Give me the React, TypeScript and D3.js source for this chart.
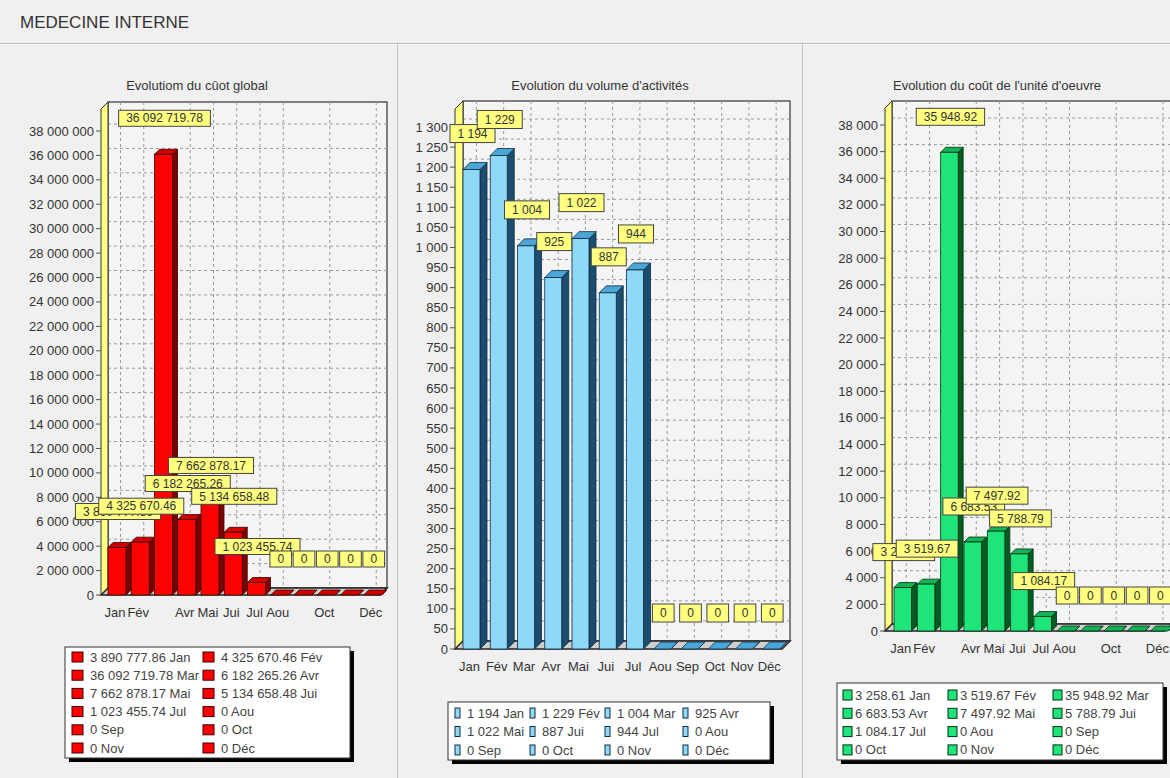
import React from 'react';
import * as d3 from 'd3';

const width = 1170;
const height = 778;
const font = '"Liberation Sans", Arial, sans-serif';

// data
const months = ['Jan', 'Fév', 'Mar', 'Avr', 'Mai', 'Jui', 'Jul', 'Aou', 'Sep', 'Oct', 'Nov', 'Déc'];
// the narrow charts drop some month labels
const narrowLabels = ['Jan', 'Fév', 'Avr', 'Mai', 'Jui', 'Jul', 'Aou', 'Oct', 'Déc'];
const coutGlobal = [3890777.86, 4325670.46, 36092719.78, 6182265.26, 7662878.17, 5134658.48, 1023455.74, 0, 0, 0, 0, 0];
const volume = [1194, 1229, 1004, 925, 1022, 887, 944, 0, 0, 0, 0, 0];
const coutUnite = [3258.61, 3519.67, 35948.92, 6683.53, 7497.92, 5788.79, 1084.17, 0, 0, 0, 0, 0];

const locale = d3.formatLocale({decimal: '.', thousands: ' ', grouping: [3], currency: ['', '']});
const fmtInt = locale.format(',d');
const fmtDec = locale.format(',.2f');

const ctx = document.createElement('canvas').getContext('2d');
const textWidth = (s, size) => {
  if (!ctx) return s.length * size * 0.55;
  ctx.font = `${size}px ${font}`;
  return ctx.measureText(s).width;
};

const panels = [
  {
    title: 'Evolutiom du cûot global', titleX: 197,
    values: coutGlobal, fmt: fmtDec, yMax: 38e6, step: 2e6,
    wallLeft: 101, plotLeft: 108, right: 387, top: 102, base: 595, yTop: 131,
    faceW: 18, barOff: 0, depth: 5, labelGap: 28, labelH: 16,
    axisLabels: narrowLabels,
    face: '#ff0000', side: '#7a0000', topc: '#d00000', edge: '#3a0000',
    legend: {x: 65, y: 647, w: 285, h: 111, cols: [72, 203], textDx: 18, row0: 657, rowStep: 18.2, sw: 11, sh: 10},
  },
  {
    title: "Evolution du volume d'activités", titleX: 600,
    values: volume, fmt: fmtInt, yMax: 1300, step: 50,
    wallLeft: 455, plotLeft: 463, right: 790, top: 101, base: 649, yTop: 127,
    faceW: 17, barOff: 0, depth: 7, labelGap: 27, labelH: 18,
    axisLabels: months,
    face: '#8ed8f8', side: '#1c4d6e', topc: '#4aa6d6', edge: '#0e2c40',
    legend: {x: 448, y: 702, w: 322, h: 58, cols: [455, 530, 605, 683], textDx: 12, row0: 713, rowStep: 18.5, sw: 5, sh: 10},
  },
  {
    title: "Evolution du coût de l'unité d'oeuvre", titleX: 997,
    values: coutUnite, fmt: fmtDec, yMax: 38000, step: 2000,
    wallLeft: 885, plotLeft: 892, right: 1172, top: 101, base: 631, yTop: 125,
    faceW: 17.5, barOff: 2, depth: 5, labelGap: 27, labelH: 17,
    axisLabels: narrowLabels,
    face: '#1ee47a', side: '#005c20', topc: '#12b455', edge: '#003010',
    legend: {x: 837, y: 683, w: 326, h: 77, cols: [843, 948, 1053], textDx: 12, row0: 695, rowStep: 18.3, sw: 9, sh: 10},
  },
];

function Panel({p}) {
  const x = d3.scaleBand().domain(months).range([p.plotLeft, p.right]);
  const y = d3.scaleLinear().domain([0, p.yMax]).range([p.base, p.yTop]);
  const ticks = d3.range(0, p.yMax + p.step / 2, p.step);
  const wd = p.plotLeft - p.wallLeft;
  const d = p.depth;
  const faceX = m => x(m) + p.barOff;
  const fmtVal = v => (v === 0 ? '0' : p.fmt(v));

  return (
    <g fontFamily={font}>
      <text x={p.titleX} y={90} textAnchor='middle' fontSize={13} fill='#333'>{p.title}</text>

      {/* back wall, left wall and floor */}
      <rect x={p.plotLeft} y={p.top} width={p.right - p.plotLeft} height={p.base - wd - p.top}
        fill='#f4f4f4' stroke='#333' strokeWidth={1.2} />
      {ticks.filter(t => t > 0).map(t => (
        <line key={t} x1={p.plotLeft} x2={p.right} y1={y(t) - wd} y2={y(t) - wd}
          stroke='#9a9a9a' strokeDasharray='3,3' />
      ))}
      {p.axisLabels.map(m => {
        const gx = faceX(m) + p.faceW / 2 + d * 0.7;
        return <line key={m} x1={gx} x2={gx} y1={p.top} y2={p.base - wd} stroke='#9a9a9a' strokeDasharray='3,3' />;
      })}
      <polygon points={`${p.wallLeft},${p.top + wd} ${p.plotLeft},${p.top} ${p.plotLeft},${p.base - wd} ${p.wallLeft},${p.base}`}
        fill='#ffff80' stroke='#333' />
      <polygon points={`${p.wallLeft},${p.base} ${p.plotLeft},${p.base - wd} ${p.right},${p.base - wd} ${p.right - wd},${p.base}`}
        fill='#cfcfcf' stroke='#222' strokeWidth={1.5} />

      {/* y axis */}
      {ticks.map(t => (
        <g key={t}>
          <line x1={p.wallLeft - 5} x2={p.wallLeft} y1={y(t)} y2={y(t)} stroke='#555' />
          <text x={p.wallLeft - 7} y={y(t)} dy='0.35em' textAnchor='end' fontSize={13} fill='#333'>{fmtInt(t)}</text>
        </g>
      ))}

      {/* 3d bars */}
      {p.values.map((v, i) => {
        const m = months[i];
        const x0 = faceX(m);
        const fw = p.faceW;
        const yt = y(v);
        const b = p.base;
        return (
          <g key={m} stroke={p.edge} strokeWidth={0.8}>
            <polygon points={`${x0 + fw},${yt} ${x0 + fw + d},${yt - d} ${x0 + fw + d},${b - d} ${x0 + fw},${b}`} fill={p.side} />
            <polygon points={`${x0},${yt} ${x0 + d},${yt - d} ${x0 + fw + d},${yt - d} ${x0 + fw},${yt}`} fill={p.topc} />
            <rect x={x0} y={yt} width={fw} height={b - yt} fill={p.face} />
          </g>
        );
      })}

      {/* x labels */}
      {p.axisLabels.map(m => (
        <text key={m} x={faceX(m) + p.faceW / 2 - 2} y={p.base + 22} textAnchor='middle' fontSize={13} fill='#333'>{m}</text>
      ))}

      {/* value labels, later ones on top */}
      {p.values.map((v, i) => {
        const s = fmtVal(v);
        const w = textWidth(s, 12) + 15;
        const cx = faceX(months[i]) + p.faceW / 2 + 1;
        const yb = y(v) - p.labelGap;
        return (
          <g key={i}>
            <rect x={cx - w / 2} y={yb - p.labelH} width={w} height={p.labelH} fill='#ffff80' stroke='#444' />
            <text x={cx} y={yb - p.labelH / 2} dy='0.35em' textAnchor='middle' fontSize={12} fill='#333'>{s}</text>
          </g>
        );
      })}

      {/* legend */}
      <rect x={p.legend.x + 4} y={p.legend.y + 4} width={p.legend.w} height={p.legend.h} fill='#000' />
      <rect x={p.legend.x} y={p.legend.y} width={p.legend.w} height={p.legend.h} fill='#fff' stroke='#333' />
      {p.values.map((v, i) => {
        const L = p.legend;
        const n = L.cols.length;
        const lx = L.cols[i % n];
        const ly = L.row0 + Math.floor(i / n) * L.rowStep;
        return (
          <g key={i}>
            <rect x={lx} y={ly - L.sh / 2} width={L.sw} height={L.sh} fill={p.face} stroke={p.edge} />
            <text x={lx + L.textDx} y={ly} dy='0.35em' fontSize={13} fill='#444'>{`${fmtVal(v)} ${months[i]}`}</text>
          </g>
        );
      })}
    </g>
  );
}

export default function App() {
  return (
    <svg width={width} height={height} style={{position: 'absolute', left: 0, top: 0, background: '#f0f0f0'}}>
      <rect width={width} height={height} fill='#f0f0f0' />
      <text x={20} y={28} fontFamily={font} fontSize={17} fill='#333'>MEDECINE INTERNE</text>
      <line x1={0} x2={width} y1={43.5} y2={43.5} stroke='#bdbdbd' />
      <line x1={0} x2={width} y1={44.5} y2={44.5} stroke='#fafafa' />
      <line x1={397.5} x2={397.5} y1={44} y2={height} stroke='#c4c4c4' />
      <line x1={802.5} x2={802.5} y1={44} y2={height} stroke='#c4c4c4' />
      {panels.map((p, i) => <Panel key={i} p={p} />)}
    </svg>
  );
}
